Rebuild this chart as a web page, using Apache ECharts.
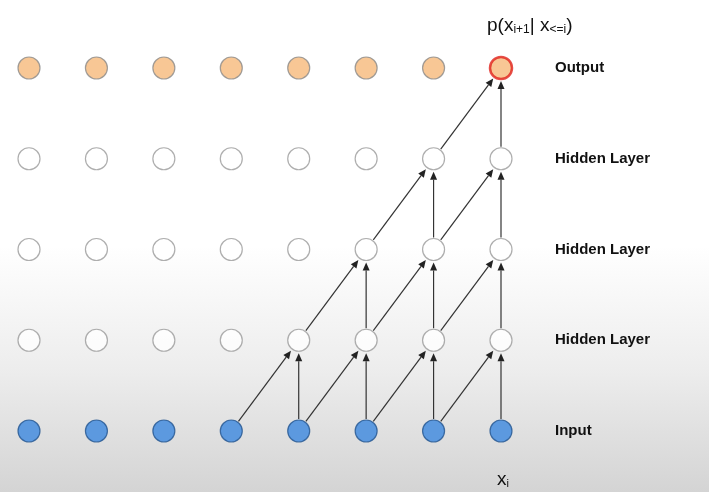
<!DOCTYPE html>
<html><head><meta charset="utf-8">
<script src="https://cdn.jsdelivr.net/npm/echarts@6/dist/echarts.min.js"></script>
<style>html,body{margin:0;padding:0}#c{width:709px;height:492px}</style>
</head><body><div id="c"></div>
<script>
const layerLabels = ['Input','Hidden Layer','Hidden Layer','Hidden Layer','Output'];
const columns = [0,1,2,3,4,5,6,7];
// arrows: [fromCol, fromLayer, toCol, toLayer]
const arrows = [
  [3,0,4,1],[4,0,4,1],[4,0,5,1],[5,0,5,1],[5,0,6,1],[6,0,6,1],[6,0,7,1],[7,0,7,1],
  [4,1,5,2],[5,1,5,2],[5,1,6,2],[6,1,6,2],[6,1,7,2],[7,1,7,2],
  [5,2,6,3],[6,2,6,3],[6,2,7,3],[7,2,7,3],
  [6,3,7,4],[7,3,7,4]
];
const styles = [
  {color:'#3B87DE', border:'#24558f'},
  {color:'#ffffff', border:'#9a9a9a'},
  {color:'#ffffff', border:'#9a9a9a'},
  {color:'#ffffff', border:'#9a9a9a'},
  {color:'#F6B97B', border:'#8a8a8a'}
];
const nodes = [];
layerLabels.forEach((_,l)=>columns.forEach(c=>{
  const s = styles[l];
  const red = (l===4 && c===7);
  nodes.push({value:[c,l], itemStyle:{color:s.color, borderColor: red?'#e0201a':s.border, borderWidth: red?2.5:1.2}});
}));
const R = 12;
const chart = echarts.init(document.getElementById('c'));
chart.setOption({
  animation:false,
  graphic:[{type:'rect', z:-10, shape:{x:0,y:0,width:709,height:492},
    style:{fill:{type:'linear',x:0,y:0,x2:0,y2:1,colorStops:[
      {offset:0,color:'#ffffff'},{offset:0.5,color:'#ffffff'},{offset:0.75,color:'#ededed'},{offset:1,color:'#d4d4d4'}]}}},
    {type:'text', left:487, top:16, style:{rich:{
      n:{fontSize:19,fontFamily:'Liberation Sans',fill:'#111'},
      s:{fontSize:12,fontFamily:'Liberation Sans',fill:'#111',verticalAlign:'bottom',padding:[8,0,0,0]}},
      text:'{n|p(x}{s|i+1}{n|| x}{s|<=i}{n|)}'}},
    {type:'text', left:497, top:470, style:{rich:{
      n:{fontSize:19,fontFamily:'Liberation Sans',fill:'#111'},
      s:{fontSize:11,fontFamily:'Liberation Sans',fill:'#111',padding:[8,0,0,0]}},
      text:'{n|x}{s|i}'}}
  ],
  grid:{left:29,right:208,top:68,bottom:61},
  xAxis:{type:'value',min:0,max:7,show:false},
  yAxis:{type:'value',min:0,max:4,interval:1,position:'right',
    axisLine:{show:false},axisTick:{show:false},splitLine:{show:false},
    axisLabel:{margin:54,align:'left',fontSize:15,fontWeight:'bold',fontFamily:'Liberation Sans',color:'#111',
      formatter:v=>layerLabels[v]||''}},
  series:[
    {type:'custom', z:1, data:arrows, renderItem:(p,api)=>{
      const a=api.coord([api.value(0),api.value(1)]), b=api.coord([api.value(2),api.value(3)]);
      const dx=b[0]-a[0], dy=b[1]-a[1], L=Math.hypot(dx,dy), ux=dx/L, uy=dy/L;
      const s=[a[0]+ux*R,a[1]+uy*R], e=[b[0]-ux*(R+1),b[1]-uy*(R+1)];
      const h=8, w=3.5;
      const bx=e[0]-ux*h, by=e[1]-uy*h;
      return {type:'group',children:[
        {type:'line',shape:{x1:s[0],y1:s[1],x2:bx,y2:by},style:{stroke:'#333',lineWidth:1.2}},
        {type:'polygon',shape:{points:[e,[bx-uy*w,by+ux*w],[bx+uy*w,by-ux*w]]},style:{fill:'#222'}}
      ]};
    }},
    {type:'scatter', z:3, symbolSize:22, data:nodes}
  ]
});
</script></body></html>
